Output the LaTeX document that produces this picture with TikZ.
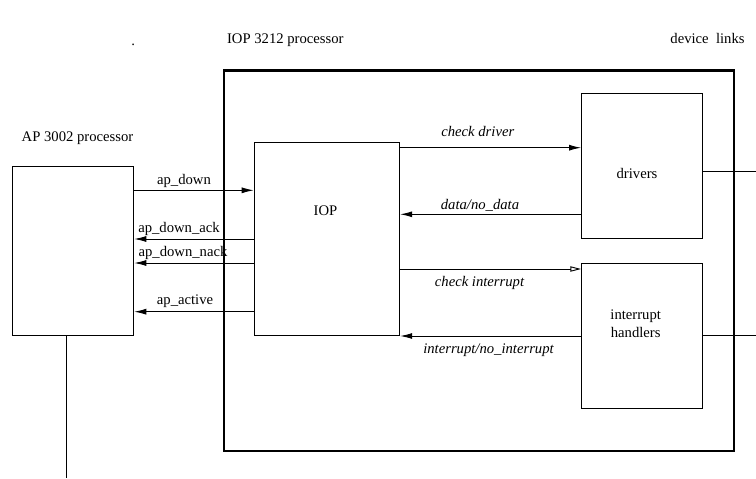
\documentclass[tikz,border=0pt]{standalone}
\usepackage{fontspec}
\setmainfont{Liberation Serif}
\usepackage{tikz}
\usetikzlibrary{arrows.meta}

\tikzset{
  blk/.style={draw, rectangle, anchor=north west, inner sep=0pt, line width=0.7pt},
  sig/.style={line width=0.7pt, -{Latex[length=9pt,width=4.5pt]}},
  sigopen/.style={line width=0.7pt, -{Stealth[open,length=8pt,width=4pt,inset=0pt]}},
  lnk/.style={line width=0.7pt},
  txt/.style={anchor=base, inner sep=0pt},
}

\begin{document}
\begin{tikzpicture}[x=0.75pt,y=0.75pt,yscale=-1,xscale=1,font=\fontsize{11}{13.8}\selectfont]
\useasboundingbox (0,0) rectangle (756,478);

%Shape: Rectangle [id:ap]
\node[blk, minimum width=91pt, minimum height=127.2pt] (ap) at (12,165.7) {};
%Shape: Rectangle [id:iopbox]
\node[blk, line width=1.8pt, minimum width=382.5pt, minimum height=285.5pt] (iopbox) at (223,69.3) {};
%Shape: Rectangle [id:iop]
\node[blk, minimum width=109.2pt, minimum height=145pt] (iop) at (253.7,142) {};
%Shape: Rectangle [id:drv]
\node[blk, minimum width=90.5pt, minimum height=108.5pt] (drv) at (581,93.3) {};
%Shape: Rectangle [id:irq]
\node[blk, minimum width=90.5pt, minimum height=108.75pt] (irq) at (581,262.7) {};

% Text Node
\node[txt] (tdot) at (133.3,45.5) {.};
% Text Node
\node[txt] (tiopproc) at (285.3,44) {IOP 3212 processor};
% Text Node
\node[txt] (tlinks) at (707.5,44) {device~~links};
% Text Node
\node[txt] (tapproc) at (77.5,141.7) {AP 3002 processor};
% Text Node
\node[txt] (tiop) at (325.5,215) {IOP};
% Text Node
\node[txt] (tdrv) at (637,178.3) {drivers};
% Text Node
\node[anchor=center, inner sep=0pt, align=center] (tirq) at (635.7,323.5) {interrupt\\handlers};

% Text Node
\node[txt] (tapdown) at (184,184) {ap\_down};
% Text Node
\node[txt] (tack) at (179,232.7) {ap\_down\_ack};
% Text Node
\node[txt] (tnack) at (183,256) {ap\_down\_nack};
% Text Node
\node[txt] (tactive) at (185,304.3) {ap\_active};
% Text Node
\node[txt] (tchkdrv) at (477.8,136) {\itshape check driver};
% Text Node
\node[txt] (tdata) at (480,209.3) {\itshape data/no\_data};
% Text Node
\node[txt] (tchkint) at (479.5,286.7) {\itshape check interrupt};
% Text Node
\node[txt] (tint) at (488.5,353.3) {\itshape interrupt/no\_interrupt};

%Straight Lines [id:ap-iop]
\draw[sig] (ap.east |- 0,190.3) -- (iop.west |- 0,190.3);
\draw[sig] (iop.west |- 0,239) -- (ap.east |- 0,239);
\draw[sig] (iop.west |- 0,263) -- (ap.east |- 0,263);
\draw[sig] (iop.west |- 0,311.7) -- (ap.east |- 0,311.7);

%Straight Lines [id:iop-drv-irq]
\draw[sig] (iop.east |- 0,147.7) -- (drv.west |- 0,147.7);
\draw[sig] (drv.west |- 0,214.3) -- (iop.east |- 0,214.3);
\draw[sigopen] (iop.east |- 0,269) -- (irq.west |- 0,269);
\draw[sig] (irq.west |- 0,336) -- (iop.east |- 0,336);

%Straight Lines [id:links]
\coordinate (lnkdrv) at (756,171.7);
\coordinate (lnkirq) at (756,335.3);
\coordinate (apbus) at (66.7,478);
\draw[lnk] (lnkdrv -| drv.east) -- (lnkdrv);
\draw[lnk] (lnkirq -| irq.east) -- (lnkirq);
\draw[lnk] (apbus |- ap.south) -- (apbus);
\end{tikzpicture}
\end{document}
